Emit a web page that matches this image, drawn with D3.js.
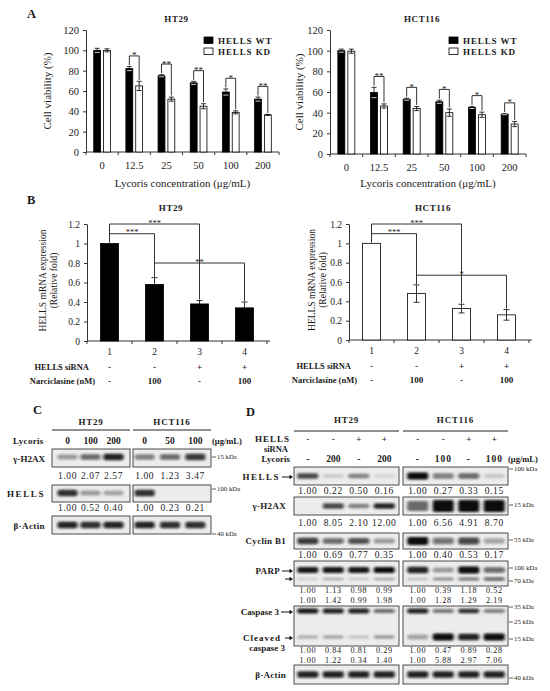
<!DOCTYPE html>
<html>
<head>
<script src="https://d3js.org/d3.v7.min.js"></script>
<style>
html, body { margin: 0; padding: 0; background: #fff; }
svg { display: block; }
text { font-family: "Liberation Serif", "Times New Roman", serif; fill: #1a1a1a; }
</style>
</head>
<body>
<svg id="main" width="550" height="691"></svg>
<script>
// ---------- panel A : cell viability (%)
const concentrations = ["0", "12.5", "25", "50", "100", "200"];
const groupsA = ["HELLS WT", "HELLS KD"];
const ht29WT      = [100, 82, 75, 68, 59, 52];
const ht29WTErr   = [2, 2, 1, 1.5, 3, 2];
const ht29KD      = [100, 65, 52, 45, 39, 36.5];
const ht29KDErr   = [1.5, 4.5, 2, 2.5, 1.5, 0.5];
const ht29Sig     = ["", "*", "**", "**", "*", "**"];
const hct116WT    = [100, 59.5, 53, 50.5, 45, 38.5];
const hct116WTErr = [1.5, 5, 1, 1.5, 1, 0.5];
const hct116KD    = [99.5, 46.5, 44, 40, 38, 29];
const hct116KDErr = [2, 2, 2, 3.5, 2.5, 2.5];
const hct116Sig   = ["", "**", "*", "*", "*", "*"];
const viabilityTicks = [0, 20, 40, 60, 80, 100, 120];

// ---------- panel B : HELLS mRNA expression (relative fold)
const conditionsB  = ["1", "2", "3", "4"];
const hellsSiRNA   = ["-", "-", "+", "+"];
const narciclasine = ["-", "100", "-", "100"];
const ht29Expr      = [1.0, 0.58, 0.38, 0.34];
const ht29ExprErr   = [0, 0.07, 0.035, 0.06];
const hct116Expr    = [1.0, 0.48, 0.325, 0.26];
const hct116ExprErr = [0, 0.09, 0.045, 0.055];
// [from, to, level, label]
const ht29BracketsB   = [[0, 1, 1.1, "***"], [0, 2, 1.2, "***"], [1, 3, 0.8, "**"]];
const hct116BracketsB = [[0, 1, 1.1, "***"], [0, 2, 1.2, "***"], [1, 3, 0.67, "*"]];
const exprTicks = [0, 0.2, 0.4, 0.6, 0.8, 1.0, 1.2];

// ---------- panel C : western blots
const lycorisC_HT29   = ["0", "100", "200"];
const lycorisC_HCT116 = ["0", "50", "100"];
const rowsC = ["γ-H2AX", "HELLS", "β-Actin"];
const quantC_HT29   = [[1.00, 2.07, 2.57], [1.00, 0.52, 0.40]];
const quantC_HCT116 = [[1.00, 1.23, 3.47], [1.00, 0.23, 0.21]];
const bandsC_HT29   = [[0.35, 0.6, 0.9], [0.85, 0.35, 0.3], [0.9, 0.85, 0.9]];
const bandsC_HCT116 = [[0.45, 0.6, 0.8], [0.85, 0.0, 0.0], [0.9, 0.85, 0.85]];
const markersC = ["15 kDa", "100 kDa", "40 kDa"];

// ---------- panel D : western blots
const sirnaD   = ["-", "-", "+", "+"];
const lycorisD_HT29   = ["-", "200", "-", "200"];
const lycorisD_HCT116 = ["-", "100", "-", "100"];
const quantD_HT29 = [
  [1.00, 0.22, 0.50, 0.16], [1.00, 8.05, 2.10, 12.00], [1.00, 0.69, 0.77, 0.35],
  [1.00, 1.13, 0.98, 0.99], [1.00, 1.42, 0.99, 1.98],
  [1.00, 0.84, 0.81, 0.29], [1.00, 1.22, 0.34, 1.40]];
const quantD_HCT116 = [
  [1.00, 0.27, 0.33, 0.15], [1.00, 6.56, 4.91, 8.70], [1.00, 0.40, 0.53, 0.17],
  [1.00, 0.39, 1.18, 0.52], [1.00, 1.28, 1.29, 2.19],
  [1.00, 0.47, 0.89, 0.28], [1.00, 5.88, 2.97, 7.06]];
// band darkness: HELLS, γ-H2AX, Cyclin B1, PARP, cleaved PARP, caspase 3, cleaved caspase 3, β-Actin
const bandsD_HT29 = [
  [0.75, 0.15, 0.5, 0.1], [0.0, 0.75, 0.45, 0.9], [0.8, 0.6, 0.7, 0.35],
  [0.95, 0.95, 0.95, 1.0], [0.12, 0.28, 0.15, 0.3],
  [0.95, 0.9, 0.9, 0.6], [0.25, 0.3, 0.18, 0.35], [0.9, 0.9, 0.9, 0.9]];
const bandsD_HCT116 = [
  [1.0, 0.5, 0.6, 0.15], [0.6, 1.0, 1.0, 1.0], [1.0, 0.55, 0.75, 0.3],
  [0.9, 0.35, 1.0, 0.6], [0.2, 0.4, 0.55, 0.6],
  [0.9, 0.55, 0.85, 0.5], [0.3, 1.0, 0.9, 1.0], [0.9, 0.9, 0.9, 0.9]];

const svg = d3.select("#main");
const defs = svg.append("defs");
defs.append("filter").attr("id", "blur").attr("x", "-30%").attr("y", "-80%").attr("width", "160%").attr("height", "260%")
  .append("feGaussianBlur").attr("stdDeviation", "1.4 1");

function label(g, x, y, txt, size, opts = {}) {
  return g.append("text").attr("x", x).attr("y", y).text(txt)
    .attr("font-size", size)
    .attr("font-weight", opts.bold ? "bold" : null)
    .attr("text-anchor", opts.anchor || "start")
    .attr("letter-spacing", opts.ls || null);
}

function styleAxis(ax, size) {
  ax.selectAll("path.domain").attr("stroke", "#333").attr("stroke-width", 1);
  ax.selectAll(".tick line").attr("stroke", "#333");
  ax.selectAll("text").attr("font-family", "Liberation Serif, serif").attr("font-size", size).attr("fill", "#1a1a1a");
  ax.attr("font-family", null);
}

// ================= A =================
function drawViability(c) {
  const g = svg.append("g");
  const x = d3.scaleBand().domain(concentrations).range([c.x0, c.x1]).paddingInner(0.48).paddingOuter(0.24);
  const xs = d3.scaleBand().domain(groupsA).range([0, x.bandwidth()]).paddingInner(0.3);
  const y = d3.scaleLinear().domain([0, 120]).range([c.yBot, c.yTop]);

  const ay = g.append("g").attr("transform", `translate(${c.x0},0)`)
    .call(d3.axisLeft(y).tickValues(viabilityTicks).tickSize(3).tickSizeOuter(0).tickPadding(4));
  styleAxis(ay, 10.5);

  // x axis with ticks between categories
  g.append("line").attr("x1", c.x0).attr("x2", c.x1).attr("y1", c.yBot).attr("y2", c.yBot).attr("stroke", "#333");
  g.selectAll(".xt").data(d3.range(concentrations.length + 1)).join("line")
    .attr("x1", i => c.x0 + i * x.step()).attr("x2", i => c.x0 + i * x.step())
    .attr("y1", c.yBot).attr("y2", c.yBot + 3).attr("stroke", "#333");
  g.selectAll(".xl").data(concentrations).join("text")
    .attr("x", d => x(d) + x.bandwidth() / 2).attr("y", c.yBot + 17)
    .attr("text-anchor", "middle").attr("font-size", 10.5).text(d => d);

  const rows = concentrations.map((d, i) => ({
    c: d, sig: c.sig[i],
    bars: [{ k: groupsA[0], v: c.wt[i], e: c.wtErr[i] }, { k: groupsA[1], v: c.kd[i], e: c.kdErr[i] }]
  }));
  const grp = g.selectAll(".grp").data(rows).join("g").attr("transform", d => `translate(${x(d.c)},0)`);
  grp.selectAll("rect").data(d => d.bars).join("rect")
    .attr("x", d => xs(d.k)).attr("width", xs.bandwidth())
    .attr("y", d => y(d.v)).attr("height", d => y(0) - y(d.v))
    .attr("fill", d => d.k === groupsA[0] ? "#000" : "#fff")
    .attr("stroke", "#000").attr("stroke-width", 0.8);
  const eb = grp.selectAll(".eb").data(d => d.bars).join("g").attr("stroke", "#000").attr("stroke-width", 0.8);
  eb.append("line").attr("x1", d => xs(d.k) + xs.bandwidth() / 2).attr("x2", d => xs(d.k) + xs.bandwidth() / 2)
    .attr("y1", d => y(d.v - d.e)).attr("y2", d => y(d.v + d.e));
  eb.append("line").attr("x1", d => xs(d.k) + xs.bandwidth() / 2 - 2.5).attr("x2", d => xs(d.k) + xs.bandwidth() / 2 + 2.5)
    .attr("y1", d => y(d.v + d.e)).attr("y2", d => y(d.v + d.e));
  eb.append("line").attr("x1", d => xs(d.k) + xs.bandwidth() / 2 - 2.5).attr("x2", d => xs(d.k) + xs.bandwidth() / 2 + 2.5)
    .attr("y1", d => y(d.v - d.e)).attr("y2", d => y(d.v - d.e)).attr("stroke", d => d.k === groupsA[0] ? "#fff" : "#000");

  // significance brackets
  const sg = grp.filter(d => d.sig);
  sg.append("path").attr("fill", "none").attr("stroke", "#000").attr("stroke-width", 0.8)
    .attr("d", d => {
      const a = d.bars[0], b = d.bars[1];
      const xa = xs(a.k) + xs.bandwidth() / 2, xb = xs(b.k) + xs.bandwidth() / 2;
      const top = y(a.v + a.e + 10.5);
      return `M${xa},${y(a.v + a.e + 1.5)}V${top}H${xb}V${y(b.v + b.e + 1.5)}`;
    });
  sg.append("text").attr("x", x.bandwidth() / 2).attr("y", d => y(d.bars[0].v + d.bars[0].e + 10.5) + 2.5)
    .attr("text-anchor", "middle").attr("font-size", 9).text(d => d.sig);

  // legend
  groupsA.forEach((k, i) => {
    g.append("rect").attr("x", c.legX).attr("y", 37 + i * 11).attr("width", 9).attr("height", 6.5)
      .attr("fill", i ? "#fff" : "#000").attr("stroke", "#000").attr("stroke-width", 0.8);
    label(g, c.legX + 14, 43.5 + i * 11, k, 9, { bold: true, ls: 0.9 });
  });

  label(g, (c.x0 + c.x1) / 2 - 6, 22, c.title, 9, { bold: true, anchor: "middle", ls: 0.6 });
  label(g, 0, 0, "Cell viability (%)", 11, { anchor: "middle" })
    .attr("transform", `translate(${c.ylabX},${(c.yTop + c.yBot) / 2}) rotate(-90)`);
  label(g, (c.x0 + c.x1) / 2, 187, "Lycoris concentration (μg/mL)", 11, { anchor: "middle" });
}

drawViability({ x0: 86, x1: 279, yTop: 30, yBot: 152, title: "HT29", ylabX: 51, legX: 204,
  wt: ht29WT, wtErr: ht29WTErr, kd: ht29KD, kdErr: ht29KDErr, sig: ht29Sig });
drawViability({ x0: 330, x1: 526, yTop: 30, yBot: 154, title: "HCT116", ylabX: 303, legX: 449,
  wt: hct116WT, wtErr: hct116WTErr, kd: hct116KD, kdErr: hct116KDErr, sig: hct116Sig });
label(svg, 27, 18, "A", 12.5, { bold: true });

// ================= B =================
function drawExpression(c) {
  const g = svg.append("g");
  const x = d3.scaleBand().domain(conditionsB).range([c.x0, c.x1]).paddingInner(0.6).paddingOuter(0.3);
  const y = d3.scaleLinear().domain([0, 1.2]).range([c.yBot, c.yTop]);
  const cx = i => x(conditionsB[i]) + x.bandwidth() / 2;

  const ay = g.append("g").attr("transform", `translate(${c.x0},0)`)
    .call(d3.axisLeft(y).tickValues(exprTicks).tickFormat(d => String(+d.toFixed(1))).tickSize(3).tickSizeOuter(0).tickPadding(4));
  styleAxis(ay, 9.5);
  g.append("line").attr("x1", c.x0).attr("x2", c.x1 + 3).attr("y1", c.yBot).attr("y2", c.yBot).attr("stroke", "#333");
  g.selectAll(".xt").data(d3.range(conditionsB.length + 1)).join("line")
    .attr("x1", i => c.x0 + i * x.step()).attr("x2", i => c.x0 + i * x.step())
    .attr("y1", c.yBot).attr("y2", c.yBot + 3).attr("stroke", "#333");
  g.selectAll(".xl").data(conditionsB).join("text")
    .attr("x", d => x(d) + x.bandwidth() / 2).attr("y", c.yBot + 14)
    .attr("text-anchor", "middle").attr("font-size", 9.5).text(d => d);

  g.selectAll(".bar").data(c.vals).join("rect")
    .attr("x", (d, i) => x(conditionsB[i])).attr("width", x.bandwidth())
    .attr("y", d => y(d)).attr("height", d => y(0) - y(d))
    .attr("fill", c.fill).attr("stroke", "#000").attr("stroke-width", 0.8);
  c.vals.forEach((v, i) => {
    const e = c.err[i];
    if (!e) return;
    g.append("path").attr("fill", "none").attr("stroke", "#000").attr("stroke-width", 0.8)
      .attr("d", `M${cx(i)},${y(v - e)}V${y(v + e)}M${cx(i) - 3},${y(v + e)}H${cx(i) + 3}M${cx(i) - 3},${y(v - e)}H${cx(i) + 3}`);
  });
  c.brackets.forEach(([a, b, lvl, s]) => {
    const top = y(lvl);
    g.append("path").attr("fill", "none").attr("stroke", "#333").attr("stroke-width", 1)
      .attr("d", `M${cx(a)},${y(c.vals[a] + c.err[a] + 0.01)}V${top}H${cx(b)}V${y(c.vals[b] + c.err[b] + 0.01)}`);
    label(g, (cx(a) + cx(b)) / 2, top + 1.5, s, 8.5, { anchor: "middle" });
  });

  label(g, c.x0 + 2, c.yBot + 29, "HELLS siRNA", 8.5, { bold: true, anchor: "end" });
  label(g, c.x0 + 8, c.yBot + 43, "Narciclasine (nM)", 8.5, { bold: true, anchor: "end" });
  conditionsB.forEach((d, i) => {
    label(g, cx(i), c.yBot + 29, hellsSiRNA[i], 9, { bold: true, anchor: "middle" });
    label(g, cx(i), c.yBot + 43, narciclasine[i], 9, { bold: true, anchor: "middle" });
  });

  label(g, (c.x0 + c.x1) / 2 - 6, 211, c.title, 9, { bold: true, anchor: "middle", ls: 0.6 });
  const yl = g.append("text").attr("font-size", 9.5).attr("text-anchor", "middle")
    .attr("transform", `translate(${c.ylabX},${(c.yTop + c.yBot) / 2 - 2}) rotate(-90)`);
  yl.append("tspan").attr("x", 0).attr("dy", 0).text("HELLS mRNA expression");
  yl.append("tspan").attr("x", 0).attr("dy", 10.5).text("(Relative fold)");
}

drawExpression({ x0: 87, x1: 267, yTop: 224, yBot: 341, title: "HT29", ylabX: 46, fill: "#000",
  vals: ht29Expr, err: ht29ExprErr, brackets: ht29BracketsB });
drawExpression({ x0: 349, x1: 529, yTop: 224, yBot: 340, title: "HCT116", ylabX: 315, fill: "#fff",
  vals: hct116Expr, err: hct116ExprErr, brackets: hct116BracketsB });
label(svg, 27, 204, "B", 12.5, { bold: true });

// ================= blots =================
function blotBox(g, x0, x1, y0, y1) {
  g.append("rect").attr("x", x0).attr("y", y0).attr("width", x1 - x0).attr("height", y1 - y0)
    .attr("fill", "#ececec").attr("stroke", "#3a3a3a").attr("stroke-width", 0.9);
}
function bandRow(g, lanes, yc, vals, h, w) {
  g.append("g").attr("filter", "url(#blur)").selectAll("rect").data(vals).join("rect")
    .attr("x", (d, i) => lanes(i) + lanes.bandwidth() / 2 - w / 2)
    .attr("width", w)
    .attr("y", d => yc - h * (0.55 + 0.45 * d) / 2)
    .attr("height", d => h * (0.55 + 0.45 * d))
    .attr("rx", 2)
    .attr("fill", "#0d0d0d").attr("fill-opacity", d => d);
}
function numRow(g, lanes, y, vals, size) {
  g.selectAll(null).data(vals).join("text")
    .attr("x", (d, i) => lanes(i) + lanes.bandwidth() / 2).attr("y", y)
    .attr("text-anchor", "middle").attr("font-size", size || 9.5).attr("letter-spacing", 0.6)
    .text(d => d.toFixed(2));
}
function marker(g, x, y, txt) {
  g.append("line").attr("x1", x).attr("x2", x + 4).attr("y1", y).attr("y2", y).attr("stroke", "#333").attr("stroke-width", 0.8);
  label(g, x + 5, y + 2.3, txt, 6.8);
}
function arrow(g, x0, x1, y) {
  g.append("line").attr("x1", x0).attr("x2", x1 - 2).attr("y1", y).attr("y2", y).attr("stroke", "#111").attr("stroke-width", 1);
  g.append("path").attr("d", `M${x1},${y}l-3.5,-2.2v4.4z`).attr("fill", "#111");
}

// ---- C
{
  const g = svg.append("g");
  const boxes = [[52, 130], [133, 211]];
  const lanesH = d3.scaleBand().domain(d3.range(3)).range([56, 125]);
  const lanesK = d3.scaleBand().domain(d3.range(3)).range([132, 208]);
  label(g, 33, 414, "C", 12.5, { bold: true });
  [["HT29", boxes[0]], ["HCT116", boxes[1]]].forEach(([t, b]) => {
    label(g, (b[0] + b[1]) / 2, 425, t, 9, { bold: true, anchor: "middle", ls: 0.8 });
    g.append("line").attr("x1", b[0]).attr("x2", b[1]).attr("y1", 430).attr("y2", 430).attr("stroke", "#222").attr("stroke-width", 1);
  });
  label(g, 13, 444, "Lycoris", 9, { bold: true, ls: 0.3 });
  lycorisC_HT29.forEach((d, i) => label(g, lanesH(i) + lanesH.bandwidth() / 2, 444, d, 9.5, { bold: true, anchor: "middle" }));
  lycorisC_HCT116.forEach((d, i) => label(g, lanesK(i) + lanesK.bandwidth() / 2, 444, d, 9.5, { bold: true, anchor: "middle" }));
  label(g, 212, 444, "(μg/mL)", 8.5, { bold: true });

  const rowY = [[449, 467], [485, 502], [516, 534]];
  const bandY = [457, 493, 525];
  const numY = [479, 511];
  const markY = [457, 489, 534];
  const rowLS = [0, 1.6, 0.4];
  rowsC.forEach((r, k) => {
    blotBox(g, boxes[0][0], boxes[0][1], rowY[k][0], rowY[k][1]);
    blotBox(g, boxes[1][0], boxes[1][1], rowY[k][0], rowY[k][1]);
    bandRow(g, lanesH, bandY[k], bandsC_HT29[k], 7, 20);
    bandRow(g, lanesK, bandY[k], bandsC_HCT116[k], 7, 20);
    label(g, 45, (rowY[k][0] + rowY[k][1]) / 2 + 3.5, r, 9, { bold: true, anchor: "end", ls: rowLS[k] });
    marker(g, 212, markY[k], markersC[k]);
    if (k < 2) {
      numRow(g, lanesH, numY[k], quantC_HT29[k]);
      numRow(g, lanesK, numY[k], quantC_HCT116[k]);
    }
  });
}

// ---- D
{
  const g = svg.append("g");
  const boxes = [[294, 399], [403, 508]];
  const lanesH = d3.scaleBand().domain(d3.range(4)).range([295, 397]);
  const lanesK = d3.scaleBand().domain(d3.range(4)).range([405, 507]);
  const cH = i => lanesH(i) + lanesH.bandwidth() / 2, cK = i => lanesK(i) + lanesK.bandwidth() / 2;
  label(g, 246, 416, "D", 12.5, { bold: true });
  [["HT29", boxes[0]], ["HCT116", boxes[1]]].forEach(([t, b]) => {
    label(g, (b[0] + b[1]) / 2, 423, t, 9, { bold: true, anchor: "middle", ls: 0.8 });
    g.append("line").attr("x1", b[0]).attr("x2", b[1]).attr("y1", 431).attr("y2", 431).attr("stroke", "#222").attr("stroke-width", 1);
  });
  label(g, 290, 442, "HELLS", 9, { bold: true, anchor: "end", ls: 1 });
  label(g, 288, 452, "siRNA", 8.5, { bold: true, anchor: "end" });
  label(g, 290, 462, "Lycoris", 9, { bold: true, anchor: "end" });
  sirnaD.forEach((d, i) => {
    label(g, cH(i), 442, d, 9, { bold: true, anchor: "middle" });
    label(g, cK(i), 442, d, 9, { bold: true, anchor: "middle" });
    label(g, cH(i), 462, lycorisD_HT29[i], 9.5, { bold: true, anchor: "middle" });
    label(g, cK(i), 462, lycorisD_HCT116[i], 9.5, { bold: true, anchor: "middle", ls: 1 });
  });
  label(g, 508, 462, "(μg/mL)", 8.5, { bold: true });

  // row boxes and bands: [band index, centre y, height HT29, height HCT116]
  const rows = [
    { y: [467, 485], name: "HELLS", ly: 480, arrowY: [477], bands: [[0, 476, 6, 7]], nums: [[0, 494]], marks: [["100 kDa", 469]] },
    { y: [497, 515], name: "γ-H2AX", ly: 509, bands: [[1, 506, 6, 12]], nums: [[1, 526]], marks: [["15 kDa", 505]] },
    { y: [533, 549], name: "Cyclin B1", ly: 544, bands: [[2, 541, 7, 8]], nums: [[2, 558]], marks: [["55 kDa", 540]] },
    { y: [561, 586], name: "PARP", ly: 574, arrowY: [571, 579], bands: [[3, 570, 6, 7], [4, 579, 4, 4]], nums: [[3, 593], [4, 602.5]], marks: [["100 kDa", 568], ["70 kDa", 581]] },
    { y: [606, 646], name: "Caspase 3", ly: 615, arrowY: [612, 638], bands: [[5, 611, 5, 5], [6, 637, 5, 7]], nums: [[5, 653], [6, 662.5]], marks: [["35 kDa", 607], ["25 kDa", 622], ["15 kDa", 639]] },
    { y: [665, 684], name: "β-Actin", ly: 678, bands: [[7, 674.5, 7, 7]], nums: [], marks: [["40 kDa", 678]] }
  ];
  rows.forEach(r => {
    blotBox(g, boxes[0][0], boxes[0][1], r.y[0], r.y[1]);
    blotBox(g, boxes[1][0], boxes[1][1], r.y[0], r.y[1]);
    r.bands.forEach(([k, yc, hH, hK]) => {
      bandRow(g, lanesH, yc, bandsD_HT29[k], hH, 21);
      bandRow(g, lanesK, yc, bandsD_HCT116[k], hK, 21);
    });
    const small = r.nums.length > 1 ? 8.2 : 9.5;
    r.nums.forEach(([k, y]) => {
      numRow(g, lanesH, y, quantD_HT29[k], small);
      numRow(g, lanesK, y, quantD_HCT116[k], small);
    });
    r.marks.forEach(([t, y]) => marker(g, 509, y, t));
    const hasArrow = !!r.arrowY;
    const lx = hasArrow ? 280 : 286;
    if (r.name === "Caspase 3") {
      label(g, 279, 615, "Caspase 3", 9, { bold: true, anchor: "end" });
      label(g, 281, 641, "Cleaved", 9, { bold: true, anchor: "end", ls: 1 });
      label(g, 285, 651, "caspase 3", 9, { bold: true, anchor: "end" });
      arrow(g, 281, 293, 612); arrow(g, 285, 293, 638);
    } else {
      label(g, lx, r.ly, r.name, 9, { bold: true, anchor: "end", ls: r.name === "HELLS" ? 1.5 : 0.3 });
      if (hasArrow) r.arrowY.forEach((ay, j) => arrow(g, j === 0 ? 282 : 285, 293, ay));
    }
  });
}
</script>
</body>
</html>
